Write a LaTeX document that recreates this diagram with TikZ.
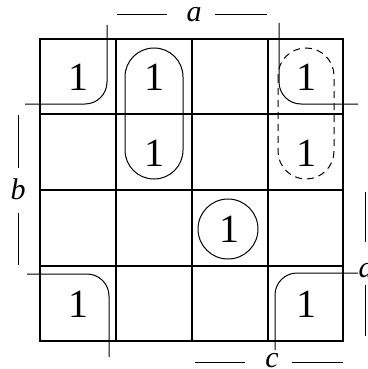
\documentclass[tikz,border=0pt]{standalone}
\usepackage{fontspec}
\setmainfont{Liberation Serif}
\begin{document}
\begin{tikzpicture}[x=1pt,y=-1pt,
  grid/.style={line width=2.6pt},
  thin/.style={line width=1pt},
  one/.style={font=\fontsize{40}{40}\selectfont, inner sep=0pt},
  var/.style={font=\fontsize{30}{30}\selectfont\itshape, inner sep=0pt}]
\useasboundingbox (0,0) rectangle (367,369);
% grid
\draw[grid] (40,39) rectangle (343,341);
\foreach \x in {116,192,268} \draw[grid] (\x,39) -- (\x,341);
\foreach \y in {114,190,266} \draw[grid] (40,\y) -- (343,\y);
% ones
\node[one] (c00) at (78,77) {1};
\node[one] (c01) at (154,77) {1};
\node[one] (c03) at (306,77) {1};
\node[one] (c11) at (154,153) {1};
\node[one] (c13) at (306,153) {1};
\node[one] (c22) at (229,229) {1};
\node[one] (c30) at (78,304) {1};
\node[one] (c33) at (306,304) {1};
% groups
\draw[thin,rounded corners=28.9pt] (125,48) rectangle (183,179);
\draw[thin,dashed,dash pattern=on 7pt off 5pt,rounded corners=27.9pt] (278,48) rectangle (334,179);
\draw[thin] (228,229) circle[radius=30];
\draw[thin,rounded corners=22pt] (107,25) -- (107,104) -- (25,104);
\draw[thin,rounded corners=22pt] (279,23) -- (279,104) -- (358,104);
\draw[thin,rounded corners=22pt] (27,274) -- (109,274) -- (109,357);
\draw[thin,rounded corners=22pt] (358,273) -- (275,273) -- (275,350);
% labels
\node[var] (la) at (194,15) {a};
\draw[thin] (117,15) -- (167,15);
\draw[thin] (215,15) -- (267,15);
\node[var] (lb) at (18,189) {b};
\draw[thin] (18,115) -- (18,168);
\draw[thin] (18,213) -- (18,265);
\node[var] (lc) at (272,361) {c};
\draw[thin] (195,362) -- (245,362);
\draw[thin] (292,362) -- (343,362);
\node[var] (ld) at (366,267) {d};
\draw[thin] (365,192) -- (365,242);
\draw[thin] (365,285) -- (365,336);
\end{tikzpicture}
\end{document}
